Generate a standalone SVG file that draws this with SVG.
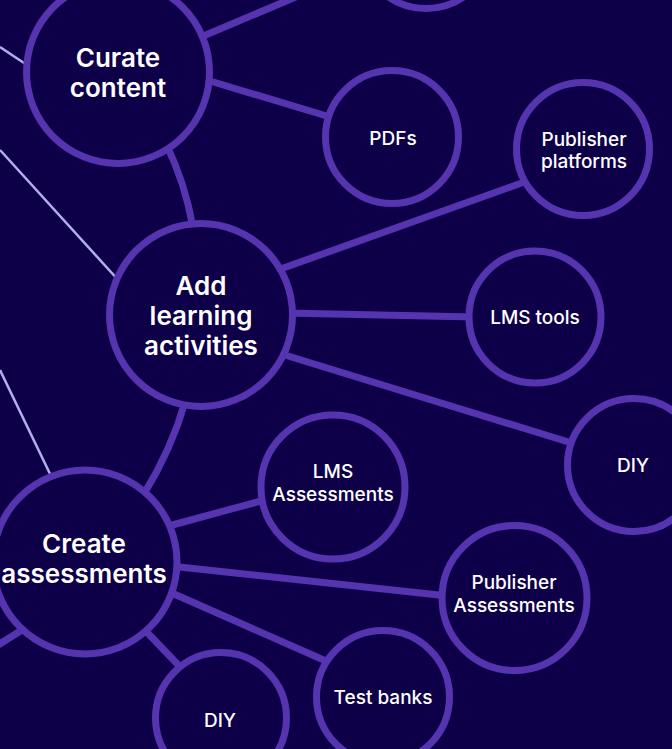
<svg xmlns="http://www.w3.org/2000/svg" width="672" height="749" viewBox="0 0 672 749">
<style>
.bg{fill:#0e0048}
.c{fill:#0e0048;stroke:#5634b0;stroke-width:7}
.e{fill:none;stroke:#5634b0;stroke-width:7}
.l{fill:none;stroke:#b3aef0;stroke-width:2.5}
text{font-family:Inter,"Liberation Sans",sans-serif;fill:#ffffff;text-anchor:middle}
.b{font-size:26px;font-weight:600}
.s{font-size:19px;font-weight:500}
</style>
<rect class="bg" x="0" y="0" width="672" height="749"/>
<g id="connectors">
<line class="l" x1="0" y1="47" x2="30" y2="67"/>
<line class="l" x1="0" y1="150" x2="120" y2="282"/>
<line class="l" x1="0" y1="370" x2="52" y2="478"/>
<line class="e" x1="118" y1="72" x2="426" y2="-58"/>
<line class="e" x1="200" y1="78" x2="340" y2="120"/>
<path class="e" d="M166,144 Q185,182 193,228"/>
<path class="e" d="M185,402 Q172,448 144,494"/>
<line class="e" x1="275" y1="271" x2="530" y2="180"/>
<line class="e" x1="285" y1="313" x2="475" y2="317"/>
<line class="e" x1="275" y1="352" x2="575" y2="444"/>
<line class="e" x1="165" y1="527" x2="268" y2="499"/>
<line class="e" x1="170" y1="566" x2="448" y2="596"/>
<line class="e" x1="165" y1="590" x2="335" y2="665"/>
<line class="e" x1="140" y1="625" x2="185" y2="672"/>
<line class="e" x1="30" y1="625" x2="-10" y2="650"/>
</g>
<g id="node-top"><circle class="c" cx="426" cy="-58" r="66.5"/></g>
<g id="node-curate"><circle class="c" cx="118" cy="72" r="91.5"/><text class="b" x="118" y="67">Curate</text><text class="b" x="118" y="97">content</text></g>
<g id="node-pdfs"><circle class="c" cx="392" cy="137" r="66.5"/><text class="s" x="393" y="145">PDFs</text></g>
<g id="node-publisher-platforms"><circle class="c" cx="583" cy="149" r="66.5"/><text class="s" x="584" y="146">Publisher</text><text class="s" x="584" y="168">platforms</text></g>
<g id="node-add"><circle class="c" cx="201" cy="315" r="91.5"/><text class="b" x="201" y="295">Add</text><text class="b" x="201" y="325">learning</text><text class="b" x="201" y="355">activities</text></g>
<g id="node-lms-tools"><circle class="c" cx="535" cy="317" r="66"/><text class="s" x="535" y="324">LMS tools</text></g>
<g id="node-diy-right"><circle class="c" cx="634" cy="465" r="66.5"/><text class="s" x="633" y="472">DIY</text></g>
<g id="node-lms-assessments"><circle class="c" cx="333" cy="487" r="72"/><text class="s" x="333" y="478">LMS</text><text class="s" x="333" y="501">Assessments</text></g>
<g id="node-create"><circle class="c" cx="85" cy="562" r="92"/><text class="b" x="84" y="553">Create</text><text class="b" x="84" y="583">assessments</text></g>
<g id="node-publisher-assessments"><circle class="c" cx="514.5" cy="598" r="72.5"/><text class="s" x="514" y="589">Publisher</text><text class="s" x="514" y="612">Assessments</text></g>
<g id="node-test-banks"><circle class="c" cx="383" cy="697" r="66.5"/><text class="s" x="383" y="704">Test banks</text></g>
<g id="node-diy-bottom"><circle class="c" cx="221" cy="718" r="65.5"/><text class="s" x="220" y="727">DIY</text></g>
</svg>
